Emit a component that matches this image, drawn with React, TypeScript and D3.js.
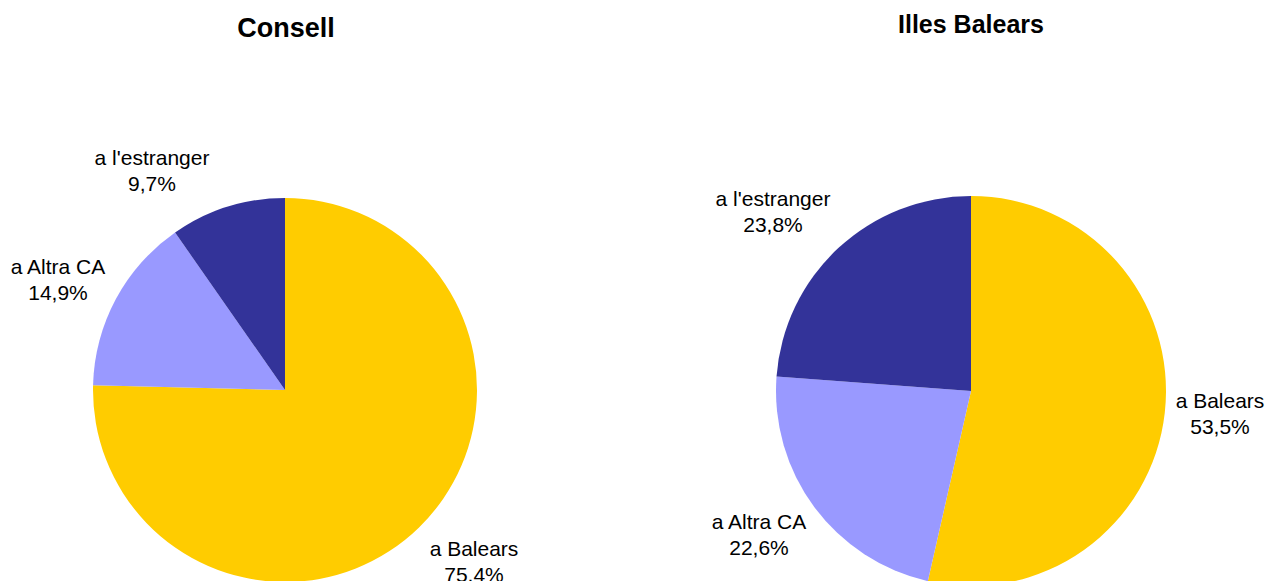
import React from "react";
import * as d3 from "d3";

const categories = ["a Balears", "a Altra CA", "a l'estranger"];
const colors = ["#FFCC00", "#9999FF", "#333399"];
const consellValues = [75.4, 14.9, 9.7];
const illesValues = [53.5, 22.6, 23.8];
const titles = ["Consell", "Illes Balears"];

const fmt = (v: number) => v.toFixed(1).replace(".", ",") + "%";

type PieProps = {
  values: number[];
  cx: number;
  cy: number;
  r: number;
  labelPos: [number, number][];
  title: string;
  titleX: number;
  titleY: number;
  titleSize: number;
};

function Pie({ values, cx, cy, r, labelPos, title, titleX, titleY, titleSize }: PieProps) {
  const pie = d3.pie<number>().sort(null).value((d) => d);
  const arc = d3.arc<d3.PieArcDatum<number>>().innerRadius(0).outerRadius(r);
  const arcs = pie(values);
  return (
    <g>
      <text x={titleX} y={titleY} textAnchor="middle" fontWeight="bold" fontSize={titleSize}>
        {title}
      </text>
      <g transform={`translate(${cx},${cy})`}>
        {arcs.map((a, i) => (
          <path key={i} d={arc(a) || ""} fill={colors[i]} />
        ))}
      </g>
      {arcs.map((a, i) => (
        <text key={"l" + i} x={labelPos[i][0]} y={labelPos[i][1]} textAnchor="middle" fontSize={21}>
          <tspan x={labelPos[i][0]}>{categories[i]}</tspan>
          <tspan x={labelPos[i][0]} dy={26}>{fmt(values[i])}</tspan>
        </text>
      ))}
    </g>
  );
}

export default function App() {
  return (
    <svg
      width={1267}
      height={581}
      style={{ position: "absolute", left: 0, top: 0, fontFamily: "'Liberation Sans', Arial, sans-serif" }}
    >
      <rect width={1267} height={581} fill="#fff" />
      <Pie
        values={consellValues}
        cx={285}
        cy={390}
        r={192}
        labelPos={[[474, 556], [58, 274], [152, 165]]}
        title={titles[0]}
        titleX={286}
        titleY={37}
        titleSize={27}
      />
      <Pie
        values={illesValues}
        cx={971}
        cy={391}
        r={195}
        labelPos={[[1220, 408], [759, 529], [773, 206]]}
        title={titles[1]}
        titleX={971}
        titleY={33}
        titleSize={25}
      />
    </svg>
  );
}
